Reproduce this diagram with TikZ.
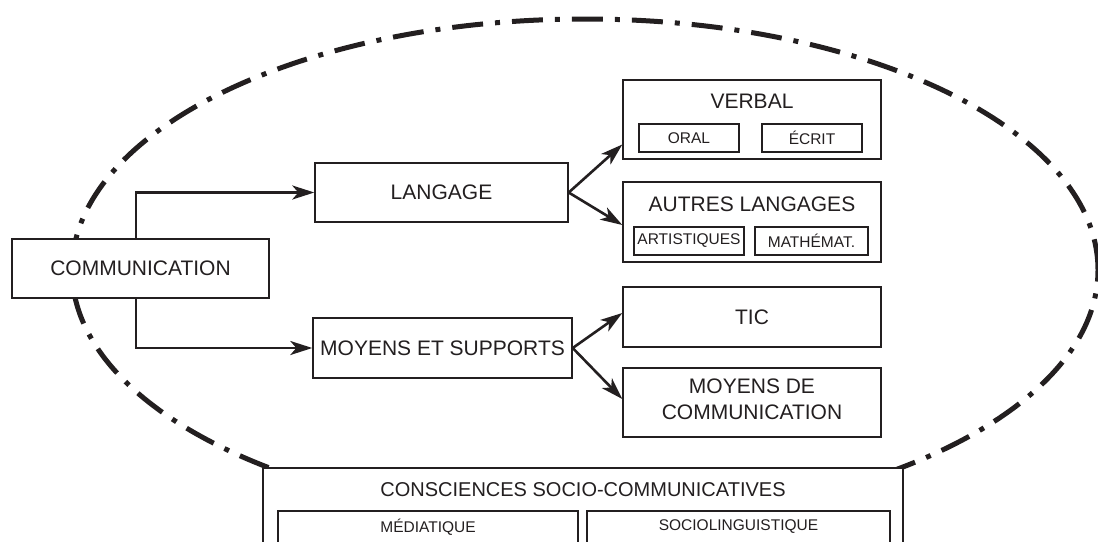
\documentclass[tikz,border=0pt]{standalone}
\usepackage{fontspec}
\setmainfont{Liberation Sans}
\usetikzlibrary{arrows.meta,positioning}
\definecolor{ink}{HTML}{231F20}
\newcommand{\bigfont}{\fontsize{21}{26}\selectfont}
\newcommand{\subfont}{\fontsize{15.5}{18}\selectfont}

\tikzset{
  box/.style={draw=ink, line width=1.4pt, fill=white, text=ink, inner sep=0pt, font=\bigfont, align=center},
  subbox/.style={draw=ink, line width=1.1pt, fill=white, text=ink, inner sep=0pt, font=\subfont, minimum height=28pt},
  title/.style={text=ink, inner sep=0pt, font=\bigfont, align=center},
  arr/.style={draw=ink, line width=2.6pt, -{Stealth[length=22pt,width=14pt,inset=6pt]}},
  ring/.style={draw=ink, line width=5pt, dash pattern=on 31pt off 12pt on 5pt off 12pt}
}

\begin{document}
\begin{tikzpicture}[x=1pt,y=-1pt]
    \clip (0,0) rectangle (1098,541);

    % dashed ring
    \draw[ring] (585,270) ellipse [x radius=513pt, y radius=251pt];

    % main column
    \node[box, minimum width=257pt, minimum height=59pt] (comm) at (140.5,268.5) {COMMUNICATION};
    \node[box, minimum width=253pt, minimum height=59pt] (lang) at (441.5,192.5) {LANGAGE};
    \node[box, minimum width=259pt, minimum height=60pt] (moy) at (442.5,348) {MOYENS ET SUPPORTS};

    % right column
    \node[box, minimum width=258pt, minimum height=79pt] (verbal) at (752,119.5) {};
    \node[title, below=15pt of verbal.north] (verbalT) {VERBAL};
    \node[subbox, minimum width=100pt] (oral) at (689,138) {ORAL};
    \node[subbox, minimum width=100pt] (ecrit) at (812,138) {ÉCRIT};

    \node[box, minimum width=258pt, minimum height=80pt] (autres) at (752,222) {};
    \node[title, below=15pt of autres.north] (autresT) {AUTRES LANGAGES};
    \node[subbox, minimum width=110pt] (artist) at (689,241) {ARTISTIQUES};
    \node[subbox, minimum width=113pt] (math) at (811.5,241) {MATHÉMAT.};

    \node[box, minimum width=258pt, minimum height=60pt] (tic) at (752,317) {TIC};
    \node[box, minimum width=258pt, minimum height=69pt] (mdc) at (752,402.5) {};
    \node[title] (mdcT) at (752,399) {MOYENS DE\\COMMUNICATION};

    % bottom box
    \node[box, minimum width=640pt, minimum height=100pt] (consc) at (583,518) {};
    \node[title, font=\fontsize{20}{24}\selectfont, below=15pt of consc.north] (conscT) {CONSCIENCES SOCIO-COMMUNICATIVES};
    \node[subbox, minimum width=300pt, minimum height=32pt] (medi) at (428,527) {MÉDIATIQUE};
    \node[subbox, minimum width=303pt, minimum height=32pt] (socio) at (738.5,527) {SOCIOLINGUISTIQUE};

    % arrows
    \draw[arr] ([xshift=-4.5pt]comm.north) |- (lang);
    \draw[arr] ([xshift=-4.5pt]comm.south) |- (moy);
    \draw[arr] (lang.east) -- ([yshift=-25pt]verbal.west);
    \draw[arr] (lang.east) -- ([yshift=-3pt]autres.west);
    \draw[arr] (moy.east) -- ([yshift=4pt]tic.west);
    \draw[arr] (moy.east) -- ([yshift=3.5pt]mdc.west);
\end{tikzpicture}
\end{document}
